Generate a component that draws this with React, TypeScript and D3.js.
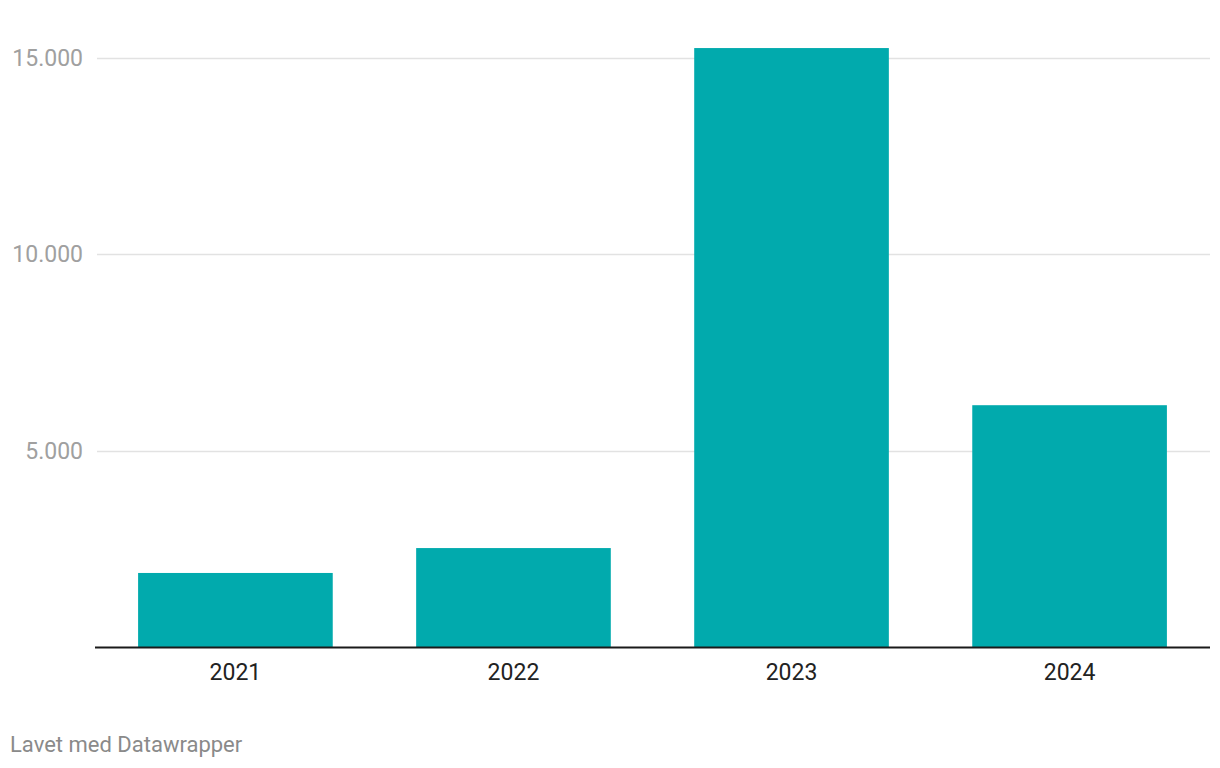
import React from "react";
import * as d3 from "d3";

const years = ["2021", "2022", "2023", "2024"];
const values = [1895, 2528, 15240, 6160];
const yTicks = [5000, 10000, 15000];
const footer = "Lavet med Datawrapper";

const W = 1220;
const H = 768;
const left = 95;
const right = 1210;
const y0 = 647.5;
const yTop15 = 57.5;

export default function App() {
  const x = d3.scaleBand<string>().domain(years).range([left, right]).paddingInner(0.3).paddingOuter(0.155);
  const y = d3.scaleLinear().domain([0, 15000]).range([y0, yTop15]);
  const fmt = (v: number) => d3.format(",")(v).replace(/,/g, ".");
  return (
    <svg width={W} height={H} style={{ position: "absolute", left: 0, top: 0, fontFamily: "Roboto, sans-serif" }}>
      <rect width={W} height={H} fill="#fff" />
      {yTicks.map((t) => (
        <g key={t}>
          <line x1={97} x2={right} y1={Math.round(y(t)) + 0.5} y2={Math.round(y(t)) + 0.5} stroke="#e2e2e2" strokeWidth={1.5} />
          <text x={83} y={y(t)} dy="0.36em" textAnchor="end" fontSize={23} fill="#a0a0a0">
            {fmt(t)}
          </text>
        </g>
      ))}
      {years.map((yr, i) => (
        <rect key={yr} x={x(yr)} width={x.bandwidth()} y={y(values[i])} height={y0 - y(values[i])} fill="#01aaad" />
      ))}
      <line x1={left} x2={right} y1={y0} y2={y0} stroke="#1a1a1a" strokeWidth={2} />
      {years.map((yr) => (
        <text key={yr} x={(x(yr) as number) + x.bandwidth() / 2} y={680} textAnchor="middle" fontSize={23} fill="#222">
          {yr}
        </text>
      ))}
      <text x={10} y={752} fontSize={22} fill="#8a8a8a">
        {footer}
      </text>
    </svg>
  );
}
